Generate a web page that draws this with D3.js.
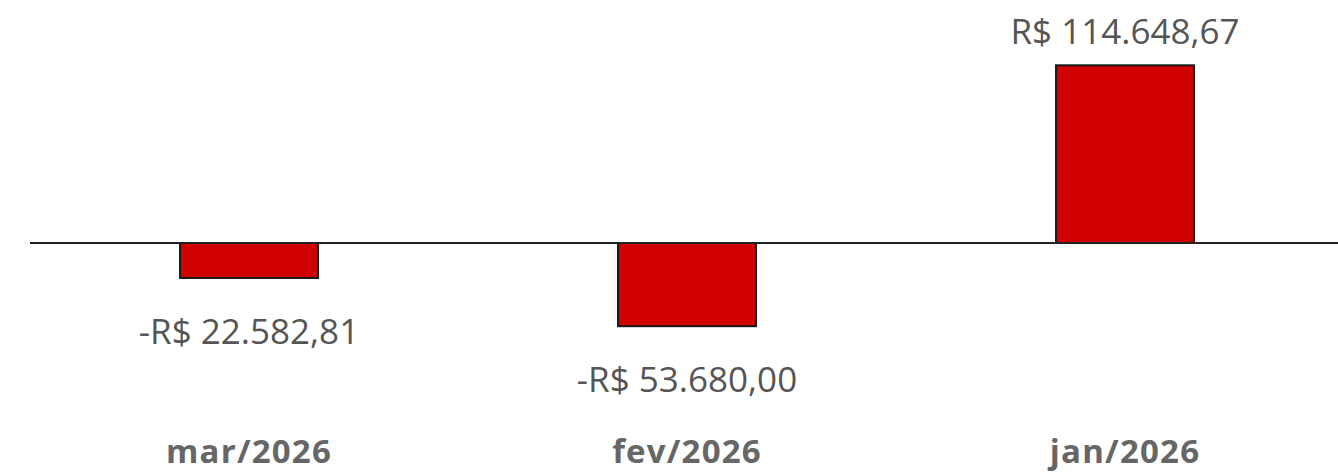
<!DOCTYPE html>
<html><head><meta charset="utf-8">
<script src="https://cdn.jsdelivr.net/npm/d3@7"></script>
<style>html,body{margin:0;padding:0;background:#fff;overflow:hidden}</style>
</head><body>
<svg id="chart" width="1338" height="474"></svg>
<script>
const categories = ["mar/2026", "fev/2026", "jan/2026"];
const values = [-22582.81, -53680.00, 114648.67];
const valueLabels = ["-R$ 22.582,81", "-R$ 53.680,00", "R$ 114.648,67"];

const svg = d3.select("#chart");
const x = d3.scaleBand().domain(categories).range([30, 1344]).paddingInner(0.685).paddingOuter(0.3425);
const y = d3.scaleLinear().domain([-60000, 120000]).range([336, 57]);

svg.selectAll("rect.bar").data(values).join("rect")
  .attr("class", "bar")
  .attr("x", (d, i) => x(categories[i]))
  .attr("width", x.bandwidth())
  .attr("y", d => y(Math.max(0, d)))
  .attr("height", d => Math.abs(y(d) - y(0)))
  .attr("fill", "#D00000")
  .attr("stroke", "#1a1a1a")
  .attr("stroke-width", 2);

svg.append("line")
  .attr("x1", 30).attr("x2", 1338)
  .attr("y1", y(0)).attr("y2", y(0))
  .attr("stroke", "#222").attr("stroke-width", 2);

svg.selectAll("text.val").data(values).join("text")
  .attr("class", "val")
  .attr("x", (d, i) => x(categories[i]) + x.bandwidth() / 2)
  .attr("y", d => d >= 0 ? y(d) - 21 : y(d) + 66)
  .attr("text-anchor", "middle")
  .attr("font-family", "'Open Sans', sans-serif")
  .attr("font-size", 35)
  .attr("fill", "#555")
  .text((d, i) => valueLabels[i]);

const xAxis = svg.append("g").attr("transform", "translate(0,463)")
  .call(d3.axisBottom(x).tickSize(0).tickPadding(0));
xAxis.select(".domain").remove();
xAxis.selectAll("text")
  .attr("dy", 0)
  .attr("font-family", "'Open Sans', sans-serif")
  .attr("font-weight", "bold")
  .attr("font-size", 33)
  .attr("letter-spacing", 1.2)
  .attr("fill", "#666");
</script>
</body></html>
